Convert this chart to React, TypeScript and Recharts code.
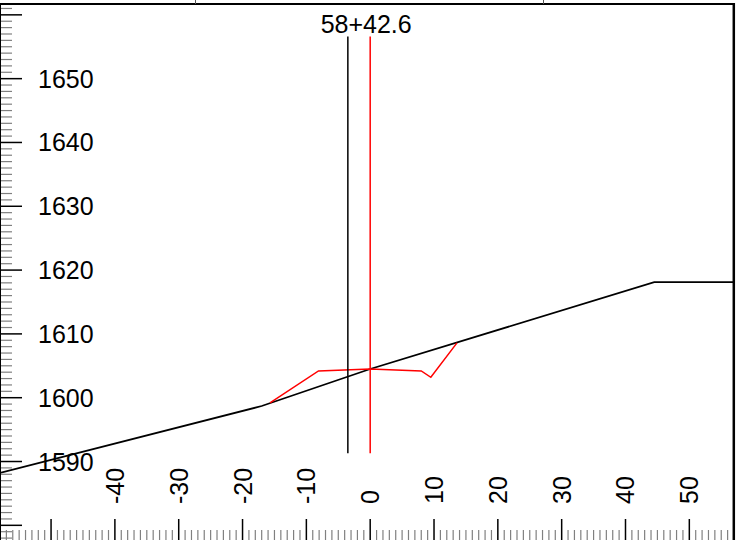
import React from 'react';
import { ComposedChart, Line, XAxis, YAxis, ReferenceLine } from 'recharts';

const W = 746;
const H = 540;

// Ground (black) profile
const groundX = [-58, -17, 0, 44.5, 57];
const groundY = [1588.2, 1598.7, 1604.5, 1618.1, 1618.1];

// Design (red) profile
const designX = [-15.7, -8.1, 0, 8.0, 9.5, 13.6];
const designY = [1599.2, 1604.2, 1604.5, 1604.2, 1603.2, 1608.6];

// Vertical marker lines
const markerOffsets = [-3.5, 0];
const markerColors = ['#000000', '#ff0000'];
const markerBottom = 1591.3;
const markerTop = 1656.6;
const stationLabel = '58+42.6';

const xDomain: [number, number] = [-58, 57];
const yDomain: [number, number] = [1577.7, 1661.7];

const xTicks: number[] = [];
for (let v = -57; v <= 56; v++) xTicks.push(v);
const yTicks: number[] = [];
for (let v = 1578; v <= 1661; v++) yTicks.push(v);

const xLabels = [-40, -30, -20, -10, 0, 10, 20, 30, 40, 50];
const yLabels = [1590, 1600, 1610, 1620, 1630, 1640, 1650];

const groundData = groundX.map((x, i) => ({ x, y: groundY[i] }));
const designData = designX.map((x, i) => ({ x, y: designY[i] }));

const FONT = '"Liberation Sans", Arial, sans-serif';

function XTick(props: any) {
  const { x, y, payload } = props;
  const v = payload.value;
  const major = v % 10 === 0;
  const len = major ? 21 : 10;
  return (
    <g>
      <line
        x1={x}
        x2={x}
        y1={y}
        y2={y - len}
        stroke={major ? '#000' : '#808080'}
        strokeWidth={major ? 1.5 : 1.2}
      />
      {xLabels.includes(v) && (
        <text
          x={x}
          y={y - 36}
          transform={`rotate(-90, ${x}, ${y - 36})`}
          textAnchor="start"
          dominantBaseline="central"
          fontSize={25}
          fontFamily={FONT}
          fill="#000"
        >
          {String(v)}
        </text>
      )}
    </g>
  );
}

function YTick(props: any) {
  const { x, y, payload } = props;
  const v = payload.value;
  const major = v % 10 === 0;
  const len = major ? 22 : 12;
  return (
    <g>
      <line
        x1={x}
        x2={x + len}
        y1={y}
        y2={y}
        stroke={major ? '#000' : '#808080'}
        strokeWidth={major ? 1.5 : 1.2}
      />
      {yLabels.includes(v) && (
        <text
          x={x + 38}
          y={y}
          textAnchor="start"
          dominantBaseline="central"
          fontSize={25}
          fontFamily={FONT}
          fill="#000"
        >
          {String(v)}
        </text>
      )}
    </g>
  );
}

export default function App() {
  return (
    <div style={{ position: 'absolute', left: 0, top: 0, width: W, height: H, background: '#fff' }}>
      <ComposedChart width={W} height={H} margin={{ top: 4, right: 12, left: 0, bottom: 0 }}>
        <XAxis
          type="number"
          dataKey="x"
          domain={xDomain}
          allowDataOverflow
          ticks={xTicks}
          interval={0}
          mirror
          tickSize={0}
          tickMargin={0}
          axisLine={false}
          tickLine={false}
          tick={<XTick />}
        />
        <YAxis
          type="number"
          dataKey="y"
          domain={yDomain}
          allowDataOverflow
          ticks={yTicks}
          interval={0}
          mirror
          tickSize={0}
          tickMargin={0}
          axisLine={false}
          tickLine={false}
          tick={<YTick />}
        />
        <Line
          data={groundData}
          dataKey="y"
          type="linear"
          stroke="#000"
          strokeWidth={1.8}
          dot={false}
          isAnimationActive={false}
        />
        <Line
          data={designData}
          dataKey="y"
          type="linear"
          stroke="#ff0000"
          strokeWidth={1.5}
          dot={false}
          isAnimationActive={false}
        />
        {markerOffsets.map((m, i) => (
          <ReferenceLine
            key={i}
            segment={[
              { x: m, y: markerBottom },
              { x: m, y: markerTop },
            ]}
            stroke={markerColors[i]}
            strokeWidth={1.5}
            ifOverflow="visible"
            label={
              i === 1
                ? {
                    value: stationLabel,
                    position: 'top',
                    offset: 4,
                    dx: -4,
                    fontSize: 25,
                    fill: '#000',
                    fontFamily: FONT,
                  }
                : undefined
            }
          />
        ))}
      </ComposedChart>
      <svg
        width={W}
        height={H}
        style={{ position: 'absolute', left: 0, top: 0, pointerEvents: 'none' }}
      >
        <line x1={0} x2={735} y1={4} y2={4} stroke="#000" strokeWidth={2.2} />
        <line x1={733.8} x2={733.8} y1={3} y2={540} stroke="#000" strokeWidth={2.5} />
        <line x1={0.5} x2={0.5} y1={4} y2={540} stroke="#000" strokeWidth={1} />
        <line x1={195.5} x2={195.5} y1={0} y2={4} stroke="#555" strokeWidth={1} />
        <line x1={543.5} x2={543.5} y1={0} y2={4} stroke="#555" strokeWidth={1} />
      </svg>
    </div>
  );
}
